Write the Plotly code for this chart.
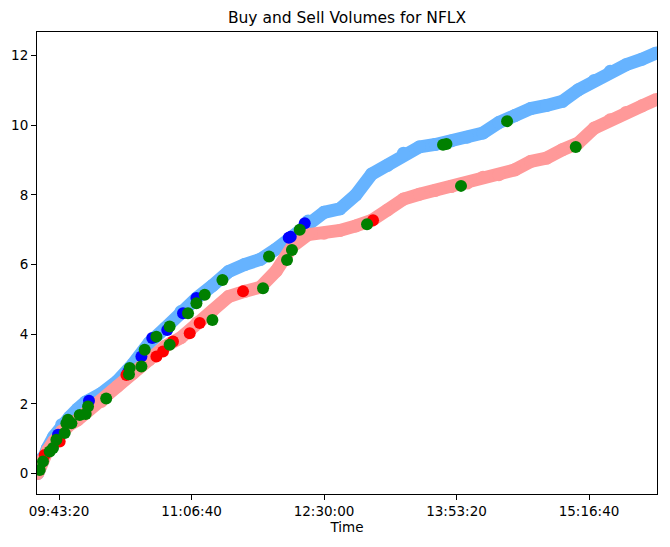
import plotly.graph_objects as go

day = '2020-01-02 '

# cumulative volume lines
line_times = ['09:30:00', '09:33:00', '09:36:00', '09:40:00', '09:45:00', '09:50:00', '09:55:00',
              '10:00:00', '10:10:00', '10:20:00', '10:30:00', '10:40:00', '10:50:00', '11:00:00',
              '11:10:00', '11:20:00', '11:30:00', '11:40:00', '11:50:00', '12:00:00', '12:10:00',
              '12:20:00', '12:30:00', '12:40:00', '12:50:00', '13:00:00', '13:10:00', '13:20:00',
              '13:30:00', '13:40:00', '13:50:00', '14:00:00', '14:10:00', '14:20:00', '14:30:00',
              '14:40:00', '14:50:00', '15:00:00', '15:10:00', '15:20:00', '15:30:00', '15:40:00',
              '15:50:00', '15:59:00']
buy_volume = [0.0, 0.45, 0.72, 1.06, 1.4, 1.62, 1.85,
              2.05, 2.3, 2.65, 3.15, 3.75, 4.17, 4.65,
              5.04, 5.4, 5.8, 6.0, 6.15, 6.45, 6.8,
              7.25, 7.5, 7.6, 8.0, 8.6, 8.85, 9.2,
              9.38, 9.45, 9.55, 9.66, 9.78, 10.08, 10.28,
              10.48, 10.57, 10.69, 11.02, 11.29, 11.55, 11.74,
              11.9, 12.08]
sell_volume = [0.0, 0.4, 0.65, 0.92, 1.22, 1.4, 1.54,
               1.73, 2.07, 2.5, 2.88, 3.26, 3.65, 3.9,
               4.32, 4.68, 5.08, 5.23, 5.35, 5.82, 6.52,
               6.86, 6.9, 6.98, 7.11, 7.27, 7.57, 7.88,
               8.02, 8.13, 8.24, 8.34, 8.51, 8.58, 8.72,
               8.96, 9.06, 9.3, 9.49, 9.92, 10.16, 10.37,
               10.56, 10.74]

# highlighted trades
blue_times = ['09:42:42', '10:02:12', '10:26:44', '10:35:10', '10:41:58', '10:51:24',
              '11:01:20', '11:09:46', '12:07:49', '12:09:05', '12:17:53']
blue_vals = [1.11, 2.09, 2.9, 3.36, 3.89, 4.12, 4.6, 5.04, 6.77, 6.8, 7.19]

red_times = ['09:34:20', '09:43:46', '10:25:44', '10:44:36', '10:48:45', '10:55:02',
             '11:05:33', '11:11:50', '11:39:04', '13:00:50']
red_vals = [0.53, 0.92, 2.83, 3.36, 3.5, 3.79, 4.03, 4.32, 5.23, 7.27]

green_times = ['09:31:12', '09:33:16', '09:37:29', '09:39:34', '09:41:42', '09:46:55',
               '09:47:59', '09:49:00', '09:51:08', '09:56:21', '10:00:08', '10:01:35',
               '10:13:01', '10:27:48', '10:27:20', '10:35:10', '10:37:14', '10:44:36',
               '10:52:55', '10:52:55', '11:04:29', '11:09:46', '11:14:59', '11:19:49',
               '11:26:07', '11:51:39', '11:55:26', '12:06:45', '12:09:50', '12:14:44',
               '12:57:04', '13:44:52', '13:47:00', '13:56:11', '14:25:08', '15:08:20']
green_vals = [0.1, 0.34, 0.63, 0.73, 0.97, 1.16,
              1.44, 1.54, 1.44, 1.68, 1.71, 1.92,
              2.15, 3.03, 2.85, 3.07, 3.55, 3.93,
              4.22, 3.7, 4.6, 4.89, 5.13, 4.41,
              5.56, 5.32, 6.23, 6.13, 6.42, 7.0,
              7.16, 9.44, 9.46, 8.26, 10.12, 9.38]

tick_labels = ['09:43:20', '11:06:40', '12:30:00', '13:53:20', '15:16:40']
y_ticks = [0, 2, 4, 6, 8, 10, 12]


def ts(times):
    return [day + t for t in times]


fig = go.Figure()
fig.add_trace(go.Scatter(x=ts(line_times), y=buy_volume, mode='lines+markers',
                         line=dict(color='#66b3ff', width=13),
                         marker=dict(color='#66b3ff', size=13)))
fig.add_trace(go.Scatter(x=ts(line_times), y=sell_volume, mode='lines+markers',
                         line=dict(color='#ff9999', width=13),
                         marker=dict(color='#ff9999', size=13)))
fig.add_trace(go.Scatter(x=ts(blue_times), y=blue_vals, mode='markers',
                         marker=dict(color='blue', size=12)))
fig.add_trace(go.Scatter(x=ts(red_times), y=red_vals, mode='markers',
                         marker=dict(color='red', size=12)))
fig.add_trace(go.Scatter(x=ts(green_times), y=green_vals, mode='markers',
                         marker=dict(color='green', size=12)))

axis_style = dict(showgrid=False, zeroline=False, showline=True, linecolor='black',
                  linewidth=1, mirror=True, ticks='outside', ticklen=5,
                  tickcolor='black', tickfont=dict(size=13.5, color='black'),
                  automargin=False)

# the page body has an 8px margin, so the figure is 8px smaller than the window
fig.update_layout(
    width=662, height=539,
    margin=dict(l=29, r=13, t=24, b=53),
    paper_bgcolor='white', plot_bgcolor='white',
    font=dict(family='DejaVu Sans', color='black'),
    showlegend=False,
    title=dict(text='Buy and Sell Volumes for NFLX', x=0.5, xanchor='center',
               xref='paper', y=0.982, yanchor='middle', font=dict(size=15.5)),
    xaxis=dict(type='date', range=[day + '09:29:30', day + '15:59:26'],
               tickvals=ts(tick_labels), ticktext=tick_labels,
               title=dict(text='Time', font=dict(size=13.5), standoff=4),
               **axis_style),
    yaxis=dict(range=[-0.59, 12.68], tickvals=y_ticks, **axis_style),
)

fig.write_html("out.html")
